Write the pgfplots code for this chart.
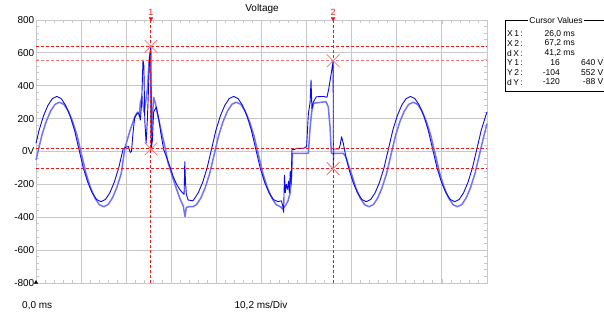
\documentclass[border=0pt]{standalone}
\usepackage{pgfplots}
\pgfplotsset{compat=1.18}
\usepackage{fontspec}
\setmainfont{Liberation Sans}
\definecolor{darktr}{RGB}{10,10,235}
\definecolor{lighttr}{RGB}{115,115,245}
\definecolor{curred}{RGB}{235,25,25}
\definecolor{curpink}{RGB}{250,115,115}
\definecolor{gridc}{RGB}{200,200,200}
\begin{document}
\begin{tikzpicture}[x=1pt,y=1pt]
\useasboundingbox (0,0) rectangle (604,317);
\fill[white] (0,0) rectangle (604,317);
\begin{axis}[
  at={(36pt,34pt)}, anchor=south west,
  scale only axis, width=451pt, height=263pt,
  xmin=0, xmax=102, ymin=-800, ymax=800,
  xtick={0,10.2,20.4,30.6,40.8,51,61.2,71.4,81.6,91.8,102},
  xticklabels={},
  ytick={-800,-600,-400,-200,0,200,400,600,800},
  yticklabels={-800,-600,-400,-200,0V,200,400,600,800},
  minor x tick num=4, minor y tick num=4,
  tick align=inside,
  major tick length=4pt, minor tick length=3pt,
  tick style={gridc, line width=0.8pt},
  grid=major,
  major grid style={gridc, line width=1pt},
  axis line style={gridc, line width=1pt},
  yticklabel style={font=\fontsize{10}{12}\selectfont, inner sep=1.5pt},
  clip=false,
]
% light trace
\addplot[lighttr, line width=1.5pt, line join=round] coordinates {
(0,-52)(0.3,-18)(1.3,96)(2.3,182)(3.3,246)(4.3,287)(5.3,300)(6.3,287)(7.3,246)(8.3,182)(9.3,96)(10.3,-18)(11.3,-132)(12.3,-218)(13.3,-282)(14.3,-323)(15.3,-336)(16.3,-323)(17.3,-282)(18.3,-218)(19.3,-132)
(20.1,21)(21.3,131)(22.4,215)(23.0,240)(23.4,215)(23.6,300)(24.0,333)(24.4,240)(24.8,300)(25.2,380)(25.6,560)(25.9,610)(26.1,100)(26.3,200)(26.6,330)(27.0,294)(27.6,212)(28.2,140)(28.8,70)(29.3,10)(29.8,-62)(30.8,-150)(31.8,-230)(32.6,-290)(33.3,-330)(33.7,-395)(34.0,-340)(34.6,-336)(35.5,-336)(36.3,-323)(37.3,-282)(38.3,-218)(39.3,-132)(40.3,-18)
(41.3,96)(42.3,182)(43.3,246)(44.3,287)(45.3,300)(46.3,287)(47.3,246)(48.3,182)(49.3,96)(50.3,-18)(51.3,-132)(52.3,-218)(53.3,-282)(54.3,-323)(55.3,-336)
(55.8,-350)(56.0,-345)(56.6,-320)(57.0,-300)(57.5,-250)(57.8,-150)(58.0,-11)(61.6,-11)(62.0,150)(62.4,250)(62.8,294)(65.6,303)(66.1,272)(66.5,150)(66.8,-11)(69.5,-11)(70.0,-30)(70.5,-70)(71.3,-132)(72.3,-218)
(73.3,-282)(74.3,-323)(75.3,-336)(76.3,-323)(77.3,-282)(78.3,-218)(79.3,-132)(80.3,-18)(81.3,96)(82.3,182)(83.3,246)(84.3,287)(85.3,300)(86.3,287)(87.3,246)(88.3,182)(89.3,96)(90.3,-18)(91.3,-132)(92.3,-218)(93.3,-282)(94.3,-323)(95.3,-336)(96.3,-323)(97.3,-282)(98.3,-218)(99.3,-132)(100.3,-18)(101.3,96)(102,170)
};
% dark trace
\addplot[darktr, line width=0.9pt, line join=round] coordinates {
(0,50)(0.7,130)(1.7,217)(2.7,281)(3.7,322)(4.7,335)(5.7,322)(6.7,281)(7.7,217)(8.7,130)(9.7,15)(10.7,-100)(11.7,-187)(12.7,-251)(13.7,-292)(14.7,-305)(15.7,-292)(16.7,-251)(17.7,-187)(18.7,-100)(19.7,15)
(20.4,27)(20.9,30)(21.3,-5)(21.6,0)(21.9,100)(22.3,204)(22.9,234)(23.3,230)(23.6,192)(23.9,300)(24.2,557)(24.4,520)(24.6,192)(24.9,50)(25.2,200)(25.4,350)(25.7,580)(26.0,640)(26.05,16)(26.3,60)(26.6,240)(27.2,270)(27.8,192)(28.3,100)(28.9,10)(29.6,-40)(30.4,-100)(31.0,-150)(31.8,-200)(32.6,-234)(33.1,-250)(33.5,-260)(33.65,-62)(33.8,-180)(34.0,-260)(34.4,-295)(35.5,-300)(36.7,-251)(37.7,-187)(38.7,-100)(39.7,15)
(40.7,130)(41.7,217)(42.7,281)(43.7,322)(44.7,335)(45.7,322)(46.7,281)(47.7,217)(48.7,130)(49.7,15)(50.7,-100)(51.7,-187)(52.7,-251)(53.7,-292)(54.7,-305)
(55.5,-300)(55.8,-330)(56.0,-370)(56.1,-250)(56.2,-143)(56.4,-250)(56.6,-200)(56.9,-230)(57.1,-180)(57.3,-250)(57.5,-120)(57.7,-200)(57.9,19)(58.2,10)(59.0,19)(60.5,19)(61.2,30)(61.6,230)(62.0,300)(62.2,435)(62.4,260)(62.7,300)(63.4,333)(65.0,335)(65.8,330)(66.2,380)(66.8,480)(67.2,552)(67.25,-100)(67.35,15)(68.5,15)(68.8,40)(69.1,90)(69.5,50)(70.0,-20)(70.7,-100)(71.7,-187)
(72.7,-251)(73.7,-292)(74.7,-305)(75.7,-292)(76.7,-251)(77.7,-187)(78.7,-100)(79.7,15)(80.7,130)(81.7,217)(82.7,281)(83.7,322)(84.7,335)(85.7,322)(86.7,281)(87.7,217)(88.7,130)(89.7,15)(90.7,-100)(91.7,-187)(92.7,-251)(93.7,-292)(94.7,-305)(95.7,-292)(96.7,-251)(97.7,-187)(98.7,-100)(99.7,15)(100.7,130)(101.7,217)(102,240)
};
% horizontal cursor lines
\addplot[curred, line width=1pt, dash pattern=on 3pt off 2pt] coordinates {(0,640)(102,640)};
\addplot[curpink, line width=1pt, dash pattern=on 3pt off 2pt] coordinates {(0,552)(102,552)};
\addplot[curred, line width=1pt, dash pattern=on 3pt off 2pt] coordinates {(0,16)(102,16)};
\addplot[curred, line width=1pt, dash pattern=on 3pt off 2pt] coordinates {(0,-104)(102,-104)};
% vertical cursor lines
\addplot[curred, line width=1pt, dash pattern=on 3pt off 2pt] coordinates {(26,-800)(26,815)};
\addplot[curred, line width=1pt, dash pattern=on 3pt off 2pt] coordinates {(67.2,-800)(67.2,815)};
% cursor markers
\addplot[only marks, mark=x, mark size=9pt, curpink, line width=0.8pt] coordinates {(26,640)(26,16)(67.2,552)(67.2,-104)};
\addplot[only marks, mark=triangle*, mark size=2.2pt, curred, mark options={rotate=180}] coordinates {(26,808)(67.2,808)};
\addplot[only marks, mark=triangle*, mark size=2pt, black] coordinates {(0,-797)};
\node[curred, font=\fontsize{9}{10}\selectfont] at (axis cs:26,848) {1};
\node[curred, font=\fontsize{9}{10}\selectfont] at (axis cs:67.2,848) {2};
\end{axis}
\node[font=\fontsize{10}{12}\selectfont] at (262,308) {Voltage};
\node[anchor=west, font=\fontsize{10}{12}\selectfont, inner sep=0pt] at (22,11) {0,0 ms};
\node[font=\fontsize{10}{12}\selectfont, inner sep=0pt] at (261,11) {10,2 ms/Div};
% cursor values box
\draw[black, line width=0.8pt] (606,297) -- (505,297) -- (505,226) -- (606,226);
\node[fill=white, inner sep=1.5pt, font=\fontsize{8.5}{10}\selectfont] at (556,297) {Cursor Values};
\begin{scope}[every node/.style={inner sep=0pt, font=\fontsize{8.5}{10}\selectfont}]
\node[anchor=west] at (507,283) {X\,1\,:};
\node[anchor=west] at (507,273.5) {X\,2\,:};
\node[anchor=west] at (507,264) {d\,X\,:};
\node[anchor=west] at (507,254) {Y\,1\,:};
\node[anchor=west] at (507,244.5) {Y\,2\,:};
\node[anchor=west] at (507,235) {d\,Y\,:};
\node[anchor=east] at (575,283) {26,0 ms};
\node[anchor=east] at (575,273.5) {67,2 ms};
\node[anchor=east] at (575,264) {41,2 ms};
\node[anchor=east] at (560,254) {16};
\node[anchor=east] at (560,244.5) {-104};
\node[anchor=east] at (560,235) {-120};
\node[anchor=east] at (603.5,254) {640 V};
\node[anchor=east] at (603.5,244.5) {552 V};
\node[anchor=east] at (603.5,235) {-88 V};
\end{scope}
\end{tikzpicture}
\end{document}
